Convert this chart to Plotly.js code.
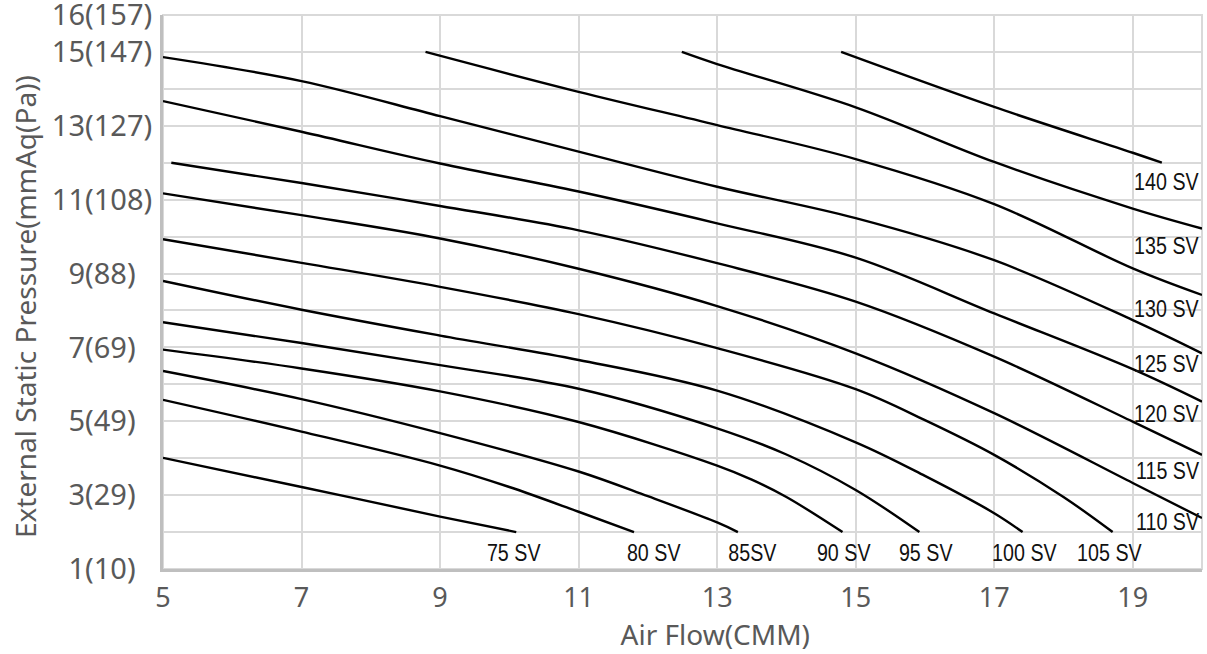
<!DOCTYPE html>
<html>
<head>
<meta charset="utf-8">
<script src="https://cdn.plot.ly/plotly-3.0.1.min.js"></script>
<style>
html,body{margin:0;padding:0;background:#fff;}
#chart{width:1207px;height:654px;}
#chart .annotation-text{transform-box:fill-box;transform-origin:center;transform:scaleX(0.82);}
</style>
</head>
<body>
<div id="chart"></div>
<script>
// Air flow (CMM) / external static pressure (mmAq) per fan step
const sv75X = [5, 7, 9, 10.1];
const sv75Y = [4.01, 3.22, 2.42, 2.0];
const sv80X = [5, 7, 9, 10, 11, 11.8];
const sv80Y = [5.58, 4.72, 3.8, 3.22, 2.55, 2.0];
const sv85X = [5, 7, 9, 11, 12, 13, 13.3];
const sv85Y = [6.36, 5.6, 4.68, 3.64, 2.97, 2.26, 2.0];
const sv90X = [5, 7, 9, 11, 13, 13.5, 14, 14.81];
const sv90Y = [6.94, 6.43, 5.81, 4.98, 3.8, 3.42, 2.95, 2.0];
const sv95X = [5, 7, 9, 11, 13, 14, 15, 15.92];
const sv95Y = [7.68, 7.12, 6.52, 5.88, 4.81, 4.1, 3.14, 2.0];
const sv100X = [5, 7, 9, 11, 13, 15, 16, 17, 17.41];
const sv100Y = [8.8, 8.02, 7.32, 6.66, 5.83, 4.43, 3.52, 2.51, 2.0];
const sv105X = [5, 7, 9, 11, 13, 15, 16, 17, 18, 18.71];
const sv105Y = [9.93, 9.29, 8.64, 7.9, 6.98, 5.87, 5.03, 4.09, 2.95, 2.0];
const sv110X = [5, 7, 9, 11, 13, 15, 17, 19, 20];
const sv110Y = [11.17, 10.58, 9.95, 9.13, 8.12, 6.84, 5.22, 3.33, 2.38];
const sv115X = [5.12, 7, 9, 11, 13, 15, 17, 19, 20];
const sv115Y = [12.0, 11.45, 10.83, 10.17, 9.28, 8.24, 6.75, 4.99, 4.09];
const sv120X = [5, 7, 9, 11, 13, 15, 17, 19, 20];
const sv120Y = [13.67, 12.84, 11.98, 11.22, 10.36, 9.43, 7.92, 6.41, 5.53];
const sv125X = [5, 7, 9, 11, 13, 15, 17, 19, 20];
const sv125Y = [14.86, 14.21, 13.26, 12.3, 11.35, 10.5, 9.36, 7.74, 6.84];
const sv130X = [8.79, 11, 13, 15, 17, 19, 20];
const sv130Y = [15, 13.92, 13.02, 12.1, 10.88, 9.14, 8.42];
const sv135X = [12.49, 13, 15, 17, 19, 20];
const sv135Y = [15, 14.67, 13.5, 12.02, 10.76, 10.22];
const sv140X = [14.79, 17, 19, 19.42];
const sv140Y = [15, 13.51, 12.27, 12.0];

const seriesNames = ['75 SV','80 SV','85SV','90 SV','95 SV','100 SV','105 SV','110 SV','115 SV','120 SV','125 SV','130 SV','135 SV','140 SV'];
const seriesX = [sv75X, sv80X, sv85X, sv90X, sv95X, sv100X, sv105X, sv110X, sv115X, sv120X, sv125X, sv130X, sv135X, sv140X];
const seriesY = [sv75Y, sv80Y, sv85Y, sv90Y, sv95Y, sv100Y, sv105Y, sv110Y, sv115Y, sv120Y, sv125Y, sv130Y, sv135Y, sv140Y];

// Axis ticks
const xTickVals = [5, 7, 9, 11, 13, 15, 17, 19];
const yTickVals = [1, 2, 3, 4, 5, 6, 7, 8, 9, 10, 11, 12, 13, 14, 15, 16];
const pad = '\u2007\u200b';
const yTickText = ['1(10)' + pad, '', '3(29)' + pad, '', '5(49)' + pad, '', '7(69)' + pad, '', '9(88)' + pad, '', '11(108)', '', '13(127)', '', '15(147)', '16(157)'];

// Curve label anchors (data coordinates)
const bottomLabelX = [10.06, 12.08, 13.51, 14.83, 16.01, 17.44, 18.66];
const bottomLabelY = 1.45;
const rightLabelX = 20;
const rightLabelY = [2.29, 3.67, 5.22, 6.57, 8.06, 9.77, 11.48];

const traces = seriesNames.map((n, i) => ({
  type: 'scatter', mode: 'lines', name: n,
  x: seriesX[i], y: seriesY[i],
  line: {color: '#000000', width: 2.4, shape: 'spline', smoothing: 1},
  hoverinfo: 'x+y+name'
}));

const labelFont = {family: '"Liberation Sans Narrow", "Liberation Sans", Arial, sans-serif', size: 24, color: '#111111'};
const annotations = [];
seriesNames.forEach((n, i) => {
  if (i < 7) {
    annotations.push({x: bottomLabelX[i], y: bottomLabelY, xref: 'x', yref: 'y', text: n, showarrow: false,
      xanchor: 'center', yanchor: 'middle', font: labelFont});
  } else {
    annotations.push({x: rightLabelX, y: rightLabelY[i - 7], xref: 'x', yref: 'y', text: n, showarrow: false,
      xanchor: 'right', yanchor: 'middle', xshift: 6, font: labelFont});
  }
});

const gray = '#595959';
const layout = {
  width: 1207, height: 654,
  margin: {l: 163, r: 5, t: 15, b: 85},
  paper_bgcolor: '#ffffff', plot_bgcolor: '#ffffff',
  showlegend: false,
  font: {family: '"Noto Sans", "Open Sans", sans-serif', color: gray},
  xaxis: {
    range: [5, 20], tickvals: xTickVals, ticktext: xTickVals.map(String),
    showgrid: true, gridcolor: '#d9d9d9', gridwidth: 2,
    showline: true, linecolor: '#bfbfbf', linewidth: 3,
    ticks: 'outside', ticklen: 3, tickcolor: 'rgba(0,0,0,0)',
    tickfont: {size: 27, color: gray},
    zeroline: false,
    title: {text: '\u200b\u00a0\u00a0\u00a0\u00a0\u00a0\u00a0\u00a0\u00a0\u00a0Air Flow(CMM)', font: {size: 28, color: gray}, standoff: 8}
  },
  yaxis: {
    range: [1, 16], tickvals: yTickVals, ticktext: yTickText,
    showgrid: true, gridcolor: '#d9d9d9', gridwidth: 2,
    showline: true, linecolor: '#bfbfbf', linewidth: 3,
    ticks: 'outside', ticklen: 2, tickcolor: 'rgba(0,0,0,0)',
    ticklabeloverflow: 'allow',
    tickfont: {size: 29, color: gray},
    zeroline: false,
    title: {text: 'External Static Pressure(mmAq(Pa))\u00a0\u00a0\u00a0\u00a0\u200b', font: {size: 28, color: gray}, standoff: 8}
  },
  shapes: [{type: 'rect', xref: 'paper', yref: 'paper', x0: 0, x1: 1, y0: 0, y1: 1,
    line: {color: '#d9d9d9', width: 2}, layer: 'below'}],
  annotations: annotations
};

Plotly.newPlot('chart', traces, layout, {displayModeBar: false, responsive: false});
</script>
</body>
</html>
